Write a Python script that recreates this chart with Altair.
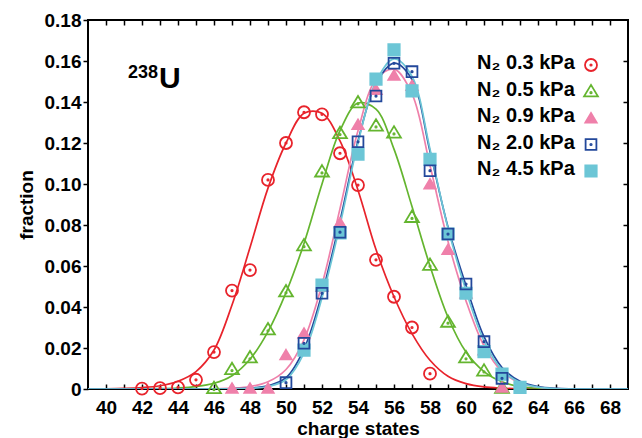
import altair as alt
import pandas as pd

FONT = "Liberation Sans"

series = ["N₂ 0.3 kPa", "N₂ 0.5 kPa", "N₂ 0.9 kPa", "N₂ 2.0 kPa", "N₂ 4.5 kPa"]

# measured points
red_q = [42, 43, 44, 45, 46, 47, 48, 49, 50, 51, 52, 53, 54, 55, 56, 57, 58]
red_v = [0.0002, 0.0004, 0.0008, 0.0045, 0.018, 0.048, 0.058, 0.102, 0.120, 0.135, 0.134, 0.115, 0.0995, 0.063, 0.045, 0.030, 0.0075]

green_q = [46, 47, 48, 49, 50, 51, 52, 53, 54, 55, 56, 57, 58, 59, 60, 61, 62]
green_v = [0.0003, 0.0096, 0.0153, 0.029, 0.0475, 0.070, 0.106, 0.1247, 0.1397, 0.1284, 0.125, 0.0838, 0.0605, 0.0327, 0.0153, 0.0089, 0.0005]

pink_q = [47, 48, 49, 50, 51, 52, 53, 54, 55, 56, 57, 58, 59, 60, 61, 62]
pink_v = [0.0003, 0.0003, 0.0003, 0.0166, 0.0272, 0.050, 0.0811, 0.129, 0.146, 0.153, 0.148, 0.100, 0.068, 0.0467, 0.019, 0.0008]

blue_q = [50, 51, 52, 53, 54, 55, 56, 57, 58, 59, 60, 61, 62]
blue_v = [0.0031, 0.0223, 0.0467, 0.0765, 0.1206, 0.1429, 0.1589, 0.1548, 0.1065, 0.0756, 0.0512, 0.0231, 0.0052]

cyan_q = [51, 52, 53, 54, 55, 56, 57, 58, 59, 60, 61, 62, 63]
cyan_v = [0.019, 0.0507, 0.0762, 0.1146, 0.1512, 0.1654, 0.1454, 0.112, 0.0756, 0.0467, 0.0182, 0.0073, 0.0008]

# fitted curves, read at every charge state 39..69
curve_q = list(range(39, 70))
red_fit = [0, 0.0001, 0.0003, 0.0007, 0.0016, 0.0038, 0.0085, 0.019, 0.041, 0.069, 0.098, 0.120, 0.1345, 0.1345,
           0.121, 0.097, 0.068, 0.045, 0.027, 0.014, 0.0062, 0.0026, 0.001, 0.0004, 0.0001, 0, 0, 0, 0, 0, 0]
green_fit = [0, 0, 0, 0.0001, 0.0002, 0.0005, 0.0012, 0.0028, 0.0065, 0.0145, 0.028, 0.047, 0.071, 0.100, 0.126,
             0.1395, 0.1365, 0.117, 0.089, 0.060, 0.035, 0.018, 0.0085, 0.0035, 0.0012, 0.0004, 0.0001, 0, 0, 0, 0]
pink_fit = [0, 0, 0, 0, 0, 0, 0, 0.0001, 0.0004, 0.0012, 0.0035, 0.0095, 0.024, 0.051, 0.088, 0.126, 0.151, 0.156,
            0.144, 0.109, 0.072, 0.043, 0.021, 0.0085, 0.003, 0.0009, 0.0002, 0, 0, 0, 0]
blue_fit = [0, 0, 0, 0, 0, 0, 0, 0, 0.0001, 0.0004, 0.0015, 0.0055, 0.0195, 0.0465, 0.082, 0.121, 0.149, 0.159,
            0.151, 0.116, 0.079, 0.0505, 0.0255, 0.0105, 0.0038, 0.0012, 0.0003, 0.0001, 0, 0, 0]
cyan_fit = [0, 0, 0, 0, 0, 0, 0, 0, 0.0001, 0.0003, 0.0012, 0.0045, 0.0175, 0.0445, 0.080, 0.120, 0.150, 0.161,
            0.1525, 0.117, 0.0785, 0.048, 0.0235, 0.0093, 0.0032, 0.0009, 0.0002, 0, 0, 0, 0]

tick_x = list(range(40, 69))
tick_y = [0, 0.02, 0.04, 0.06, 0.08, 0.10, 0.12, 0.14, 0.16, 0.18]

# styles
stroke_colors = ["#e8232b", "#64b52f", "#ef80aa", "#23489b", "#6cc6d6"]
fill_colors = ["transparent", "transparent", "#ef80aa", "transparent", "#6cc6d6"]
shapes = [
    "M-1,0A1,1 0 1,1 1,0A1,1 0 1,1 -1,0Z M-0.12,0A0.12,0.12 0 1,1 0.12,0A0.12,0.12 0 1,1 -0.12,0Z",
    "M0,-1.1L1.15,0.8L-1.15,0.8Z M-0.12,0.2A0.12,0.12 0 1,1 0.12,0.2A0.12,0.12 0 1,1 -0.12,0.2Z",
    "M0,-0.85L0.95,0.75L-0.95,0.75Z",
    "M-0.9,-0.9H0.9V0.9H-0.9Z M-0.12,0A0.12,0.12 0 1,1 0.12,0A0.12,0.12 0 1,1 -0.12,0Z",
    "M-0.95,-0.95H0.95V0.95H-0.95Z",
]

pts_rows = []
for s, qs, vs in [(series[0], red_q, red_v), (series[1], green_q, green_v), (series[2], pink_q, pink_v),
                  (series[4], cyan_q, cyan_v), (series[3], blue_q, blue_v)]:
    for q, v in zip(qs, vs):
        pts_rows.append({"series": s, "q": q, "frac": v})
pts = pd.DataFrame(pts_rows)

fit_rows = []
for s, vs in zip(series, [red_fit, green_fit, pink_fit, blue_fit, cyan_fit]):
    for q, v in zip(curve_q, vs):
        fit_rows.append({"series": s, "q": q, "frac": v})
fits = pd.DataFrame(fit_rows)

leg_df = pd.DataFrame({"series": series})

xscale = alt.Scale(domain=[39, 69], nice=False, zero=False)
yscale = alt.Scale(domain=[0, 0.18], nice=False)
line_scale = alt.Scale(domain=series, range=stroke_colors)
stroke_scale = alt.Scale(domain=series, range=stroke_colors)
fill_scale = alt.Scale(domain=series, range=fill_colors)
shape_scale = alt.Scale(domain=series, range=shapes)

axis_common = dict(domain=False, grid=False, tickColor="black", tickWidth=1.5, tickSize=5,
                   labelFont=FONT, labelFontSize=19, labelFontWeight="bold", labelColor="black",
                   titleFont=FONT, titleFontSize=19, titleFontWeight="bold", titleColor="black")

lines = alt.Chart(fits).mark_line(interpolate="catmull-rom", strokeWidth=1.7, clip=True).encode(
    x=alt.X("q:Q", scale=xscale, axis=alt.Axis(
        values=tick_x, offset=-5, labelPadding=9, labelOverlap=False, labelFlush=False,
        labelExpr="datum.value % 2 == 0 ? datum.label : ''",
        title="charge states", titlePadding=2, **axis_common)),
    y=alt.Y("frac:Q", scale=yscale, axis=alt.Axis(
        values=tick_y, labelPadding=2, labelOverlap=False, labelFlush=False,
        labelExpr="datum.value == 0 ? '0' : format(datum.value, '.2f')",
        title="fraction", titlePadding=8, **axis_common)),
    color=alt.Color("series:N", scale=line_scale, legend=None),
    detail="series:N",
)

points = alt.Chart(pts).mark_point(size=144, strokeWidth=1.8, opacity=1).encode(
    x=alt.X("q:Q", scale=xscale, axis=alt.Axis(
        orient="top", values=tick_x, offset=-5, labels=False, title=None, **axis_common)),
    y=alt.Y("frac:Q", scale=yscale, axis=alt.Axis(
        orient="right", values=tick_y[1:-1], offset=-5, labels=False, title=None, **axis_common)),
    stroke=alt.Stroke("series:N", scale=stroke_scale, legend=None),
    fill=alt.Fill("series:N", scale=fill_scale, legend=None),
    shape=alt.Shape("series:N", scale=shape_scale, legend=None),
)

# legend drawn from the series list (label column left, marker column right)
leg_text = alt.Chart(leg_df).mark_text(
    font=FONT, fontSize=20, fontWeight="bold", align="left", baseline="middle", color="black"
).encode(
    x=alt.value(389),
    y=alt.Y("series:N", scale=alt.Scale(domain=series, range=[43, 149], padding=0), axis=None),
    text="series:N",
)

leg_sym = alt.Chart(leg_df).mark_point(size=144, strokeWidth=1.8, opacity=1).encode(
    x=alt.value(503),
    y=alt.Y("series:N", scale=alt.Scale(domain=series, range=[45, 151], padding=0), axis=None),
    stroke=alt.Stroke("series:N", scale=stroke_scale, legend=None),
    fill=alt.Fill("series:N", scale=fill_scale, legend=None),
    shape=alt.Shape("series:N", scale=shape_scale, legend=None),
)

iso_mass = alt.Chart(pd.DataFrame({"t": ["238"]})).mark_text(
    font=FONT, fontSize=18, fontWeight="bold", align="left", baseline="alphabetic", color="black"
).encode(text="t:N", x=alt.value(40), y=alt.value(58))

iso_sym = alt.Chart(pd.DataFrame({"t": ["U"]})).mark_text(
    font=FONT, fontSize=30, fontWeight="bold", align="left", baseline="alphabetic", color="black"
).encode(text="t:N", x=alt.value(71), y=alt.value(68))

chart = alt.layer(lines, points, leg_text, leg_sym, iso_mass, iso_sym).resolve_scale(
    y="independent"
).resolve_axis(
    x="independent", y="independent"
).properties(
    width=540, height=369,
    padding={"left": 88, "top": 20, "right": 14, "bottom": 49},
    autosize=alt.AutoSizeParams(type="none"),
).configure_view(stroke="black", strokeWidth=2)

chart.save("out.html", embed_options={"renderer": "svg", "actions": False})
